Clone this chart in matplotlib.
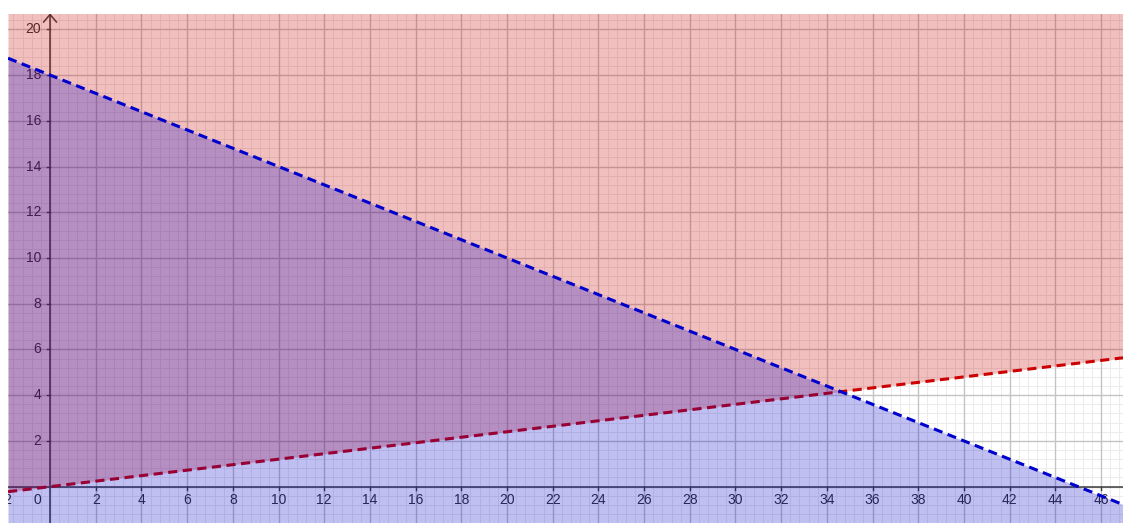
import numpy as np
import matplotlib
matplotlib.use("Agg")
import matplotlib.pyplot as plt

# boundary lines of the two inequalities
blue_intercept = 18.0
blue_slope = -0.4
red_intercept = 0.0
red_slope = 0.12

x_ticks = [-2, 2, 4, 6, 8, 10, 12, 14, 16, 18, 20, 22, 24, 26, 28, 30, 32, 34, 36, 38, 40, 42, 44, 46]
y_ticks = [2, 4, 6, 8, 10, 12, 14, 16, 18, 20]

x_min, x_max = -1.84, 46.96
y_min, y_max = -1.59, 20.67

red_fill = (0.8, 0.0, 0.0, 0.25)
blue_fill = (0.0, 0.0, 0.8, 0.25)

fig = plt.figure(figsize=(11.23, 5.23), dpi=100)
ax = fig.add_axes([8 / 1123, 0, 1 - 8 / 1123, 509 / 523])
ax.set_xlim(x_min, x_max)
ax.set_ylim(y_min, y_max)
for s in ax.spines.values():
    s.set_visible(False)
ax.set_xticks([])
ax.set_yticks([])

# grid: minor every 0.4, major every 2
for v in np.arange(-1.6, x_max, 0.4):
    ax.axvline(v, color="#ebebeb", lw=0.7, zorder=0)
for v in np.arange(-1.2, y_max, 0.4):
    ax.axhline(v, color="#ebebeb", lw=0.7, zorder=0)
for v in np.arange(-2, x_max, 2):
    ax.axvline(v, color="#c4c4c4", lw=1.0, zorder=0.5)
for v in np.arange(0, y_max, 2):
    ax.axhline(v, color="#c4c4c4", lw=1.0, zorder=0.5)

# axes
ax.axhline(0, color="#404040", lw=1.1, zorder=1)
ax.axvline(0, color="#404040", lw=1.1, zorder=1)
ax.plot([-0.28, 0, 0.28], [y_max - 0.35, y_max - 0.02, y_max - 0.35], color="#404040", lw=1.1, zorder=1)

lab_font = dict(fontsize=10, color="#333333", family="Liberation Sans", zorder=1, clip_on=True)
for t in x_ticks:
    ax.plot([t, t], [0, -0.15], color="#404040", lw=1.0, zorder=1)
    ax.text(t, -0.28, str(t).replace("-", "\u2212"), ha="center", va="top", **lab_font)
ax.text(-0.55, -0.28, "0", ha="center", va="top", **lab_font)
for t in y_ticks:
    ax.plot([0, -0.15], [t, t], color="#404040", lw=1.0, zorder=1)
    ax.text(-0.38, t, str(t), ha="right", va="center", **lab_font)

xs = np.array([x_min, x_max])
blue_y = blue_intercept + blue_slope * xs
red_y = red_intercept + red_slope * xs

ax.fill_between(xs, red_y, y_max + 1, color=red_fill, lw=0, zorder=2)
ax.plot(xs, red_y, color="#cc0000", lw=2.2, dashes=(3, 1.8), zorder=2.5)
ax.fill_between(xs, y_min - 1, blue_y, color=blue_fill, lw=0, zorder=3)
ax.plot(xs, blue_y, color="#0000cc", lw=2.2, dashes=(3, 1.8), zorder=4)

fig.savefig("out.png", dpi=100)
